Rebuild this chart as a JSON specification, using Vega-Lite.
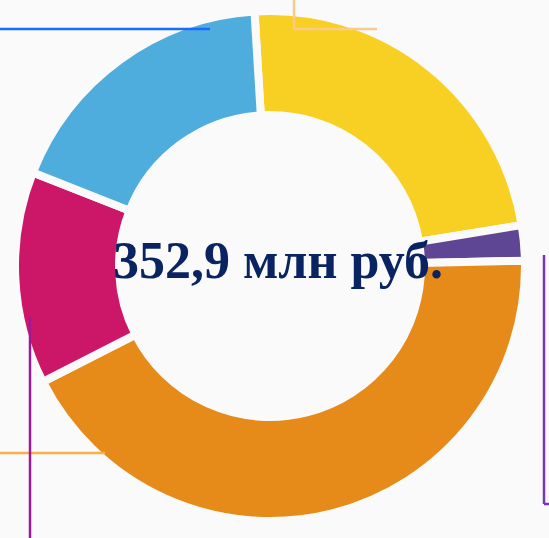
{
  "$schema": "https://vega.github.io/schema/vega-lite/v6.json",
  "width": 540,
  "height": 532,
  "autosize": "none",
  "padding": {"left": 0, "top": 0, "right": 9, "bottom": 6},
  "background": "#fafafa",
  "config": {"view": {"stroke": null}},
  "layer": [
    {
      "data": {"values": [
        {"category": "Жёлтый", "value": 82.6, "order": 1},
        {"category": "Фиолетовый", "value": 7.9, "order": 2},
        {"category": "Оранжевый", "value": 151.1, "order": 3},
        {"category": "Малиновый", "value": 47.6, "order": 4},
        {"category": "Голубой", "value": 63.7, "order": 5}
      ]},
      "mark": {"type": "arc", "radius": 255, "radius2": 151, "stroke": "#fafafa", "strokeWidth": 8},
      "encoding": {
        "theta": {"field": "value", "type": "quantitative", "stack": true, "scale": {"range": [-0.061, 6.2222]}},
        "order": {"field": "order", "type": "quantitative"},
        "color": {"field": "category", "type": "nominal", "legend": null,
          "scale": {"domain": ["Жёлтый", "Фиолетовый", "Оранжевый", "Малиновый", "Голубой"],
                    "range": ["#f7d023", "#5e4694", "#e68a1a", "#cc1769", "#4eaddc"]}}
      }
    },
    {
      "data": {"values": [
        {"line": "a", "x": 0, "y": 29, "x2": 210, "y2": 29},
        {"line": "b", "x": 294, "y": 0, "x2": 294, "y2": 29},
        {"line": "b", "x": 294, "y": 29, "x2": 377, "y2": 29},
        {"line": "c", "x": 0, "y": 453, "x2": 105, "y2": 453},
        {"line": "d", "x": 30, "y": 317, "x2": 30, "y2": 540},
        {"line": "e", "x": 544, "y": 255, "x2": 544, "y2": 504},
        {"line": "e", "x": 544, "y": 504, "x2": 552, "y2": 504}
      ]},
      "mark": {"type": "rule", "strokeWidth": 2.5, "clip": false},
      "encoding": {
        "x": {"field": "x", "type": "quantitative", "scale": {"domain": [0, 540]}, "axis": null},
        "x2": {"field": "x2"},
        "y": {"field": "y", "type": "quantitative", "scale": {"domain": [0, 532], "reverse": true}, "axis": null},
        "y2": {"field": "y2"},
        "color": {"field": "line", "type": "nominal", "legend": null,
          "scale": {"domain": ["a", "b", "c", "d", "e"], "range": ["#1a6cff", "#fbc98a", "#f8b04a", "#a0189a", "#7a35b8"]}}
      }
    },
    {
      "data": {"values": [{"label": "352,9 млн руб."}]},
      "mark": {"type": "text", "font": "Liberation Serif", "fontWeight": "bold", "fontSize": 52, "color": "#0a2462", "align": "center", "baseline": "alphabetic", "dx": 8, "dy": 12},
      "encoding": {"text": {"field": "label"}}
    }
  ],
  "resolve": {"scale": {"color": "independent"}}
}
